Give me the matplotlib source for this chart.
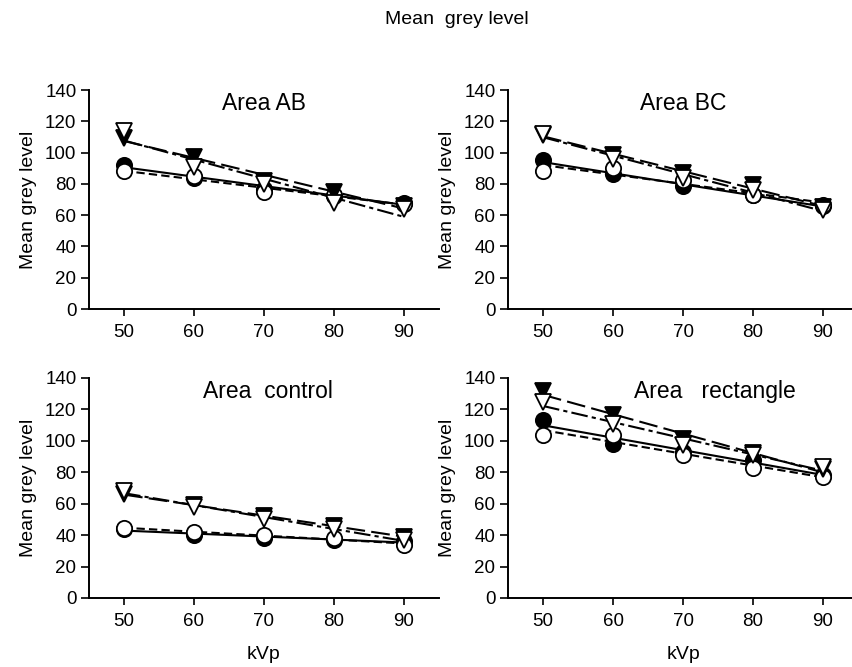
import numpy as np
import matplotlib
matplotlib.use('Agg')
import matplotlib.pyplot as plt

plt.rcParams['font.family'] = ['Liberation Sans', 'DejaVu Sans']

kvp = [50, 60, 70, 80, 90]

# Area AB
ab_fc = [92, 84, 77, 72, 68]
ab_oc = [88, 85, 74.5, 73, 67]
ab_ft = [109, 97, 82, 75, 66]
ab_ot = [113.5, 91, 80, 68, 64]

# Area BC
bc_fc = [95, 86, 78.5, 73, 66]
bc_oc = [88, 90, 82.5, 73, 66.5]
bc_ft = [111, 98.5, 87, 79, 65]
bc_ot = [112, 96, 84, 76, 63]

# Area control
ct_fc = [44, 40, 38.5, 37, 36]
ct_oc = [44.5, 42, 40, 38, 34]
ct_ft = [66, 59, 52, 46, 39]
ct_ot = [68, 58, 50.5, 44, 37]

# Area rectangle
re_fc = [113, 98, 93, 88, 78.5]
re_oc = [104, 104, 91, 83, 77]
re_ft = [131.5, 116.5, 101, 92, 82]
re_ot = [125, 111, 97.5, 91, 83.5]

panels = [
    ('Area AB', [ab_fc, ab_oc, ab_ft, ab_ot]),
    ('Area BC', [bc_fc, bc_oc, bc_ft, bc_ot]),
    ('Area  control', [ct_fc, ct_oc, ct_ft, ct_ot]),
    ('Area   rectangle', [re_fc, re_oc, re_ft, re_ot]),
]
title_x = [0.5, 0.5, 0.51, 0.59]

# marker, face colour, line dash
styles = [
    ('o', 'black', '-'),
    ('o', 'white', (0, (4, 2))),
    ('v', 'black', (0, (9, 3))),
    ('v', 'white', (0, (8, 2, 2, 2))),
]

W, H = 852, 667
fig = plt.figure(figsize=(W / 100, H / 100), dpi=100)

boxes = [
    (89, 90, 439, 309),
    (508, 90, 858, 309),
    (89, 378, 439, 598),
    (508, 378, 858, 598),
]

for i, (name, series) in enumerate(panels):
    l, t, r, b = boxes[i]
    ax = fig.add_axes([l / W, 1 - b / H, (r - l) / W, (b - t) / H])
    x = np.array(kvp, dtype=float)
    for vals, (mk, fc, ls) in zip(series, styles):
        y = np.array(vals, dtype=float)
        k, c = np.polyfit(x, y, 1)
        ax.plot(x, k * x + c, color='black', lw=1.5, linestyle=ls, zorder=2)
    for vals, (mk, fc, ls) in zip(series, styles):
        ax.plot(kvp, vals, linestyle='none', marker=mk, ms=11,
                mfc=fc, mec='black', mew=1.3, zorder=3)
    ax.set_xlim(45, 95)
    ax.set_ylim(0, 140)
    ax.set_xticks(kvp)
    ax.set_yticks(range(0, 141, 20))
    for s in ['top', 'right']:
        ax.spines[s].set_visible(False)
    for s in ['left', 'bottom']:
        ax.spines[s].set_linewidth(1.4)
    ax.tick_params(axis='x', direction='out', length=5, width=1.2,
                   labelsize=13.5, pad=6)
    ax.tick_params(axis='y', direction='out', length=6, width=1.2,
                   labelsize=13.5, pad=3)
    ax.set_ylabel('Mean grey level', fontsize=14, labelpad=6)
    if i >= 2:
        ax.set_xlabel('kVp', fontsize=14, labelpad=11)
    ax.text(title_x[i], 0.99, name, transform=ax.transAxes, ha='center',
            va='top', fontsize=16.5)

fig.text(457 / W, 1 - 19 / H, 'Mean  grey level', ha='center', va='center',
         fontsize=14)

fig.savefig('out.png', dpi=100)
